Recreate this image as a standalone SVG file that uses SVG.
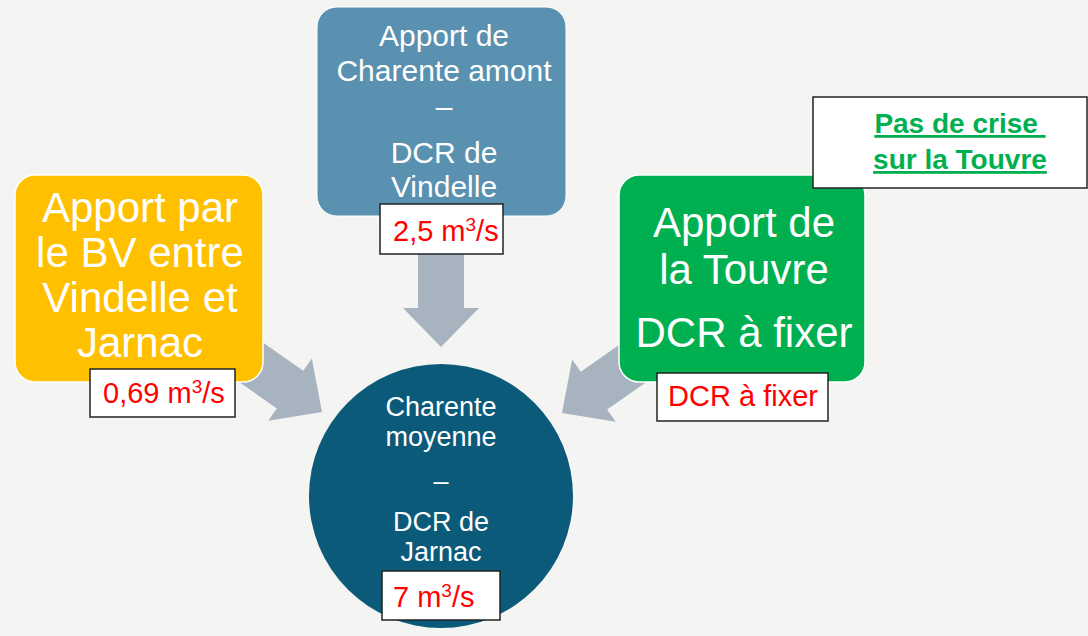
<svg xmlns="http://www.w3.org/2000/svg" width="1088" height="636" viewBox="0 0 1088 636">
<style>
.bg{fill:#f4f4f3}
.arrow{fill:#a7b4c0}
.wt{fill:#ffffff;font-family:"Liberation Sans",Arial,sans-serif;text-anchor:middle}
.lbl{fill:#ffffff;stroke:#222222;stroke-width:1.5}
.red{fill:#ff0000;font-family:"Liberation Sans",Arial,sans-serif;font-size:29px}
.note{fill:#00b050;font-family:"Liberation Sans",Arial,sans-serif;font-size:28px;font-weight:bold;text-anchor:middle;text-decoration:underline}
</style>
<defs>
<path id="arr" d="M0,0 L-39,-38 L-39,-23 L-135,-23 L-135,23 L-39,23 L-39,38 Z"/>
</defs>
<rect class="bg" x="0" y="0" width="1088" height="636"/>
<g id="connectors">
<use href="#arr" class="arrow" transform="translate(441,347) rotate(90)"/>
<use href="#arr" class="arrow" transform="translate(322,412) rotate(35)"/>
<use href="#arr" class="arrow" transform="translate(562,413) rotate(145)"/>
</g>
<g id="node-charente-amont">
<rect x="317" y="7" width="249" height="209" rx="20" fill="#5a91b0" stroke="#ffffff" stroke-width="1"/>
<text class="wt" font-size="30"><tspan x="444" y="46">Apport de</tspan><tspan x="444" y="81">Charente amont</tspan><tspan x="444" y="117">–</tspan><tspan x="444" y="163">DCR de</tspan><tspan x="444" y="197">Vindelle</tspan></text>
<rect class="lbl" x="380" y="204" width="123" height="50"/>
<text class="red" x="393" y="241">2,5 m<tspan font-size="19" dy="-10">3</tspan><tspan dy="10">/s</tspan></text>
</g>
<g id="node-bv">
<rect x="15" y="175" width="248" height="207" rx="20" fill="#ffc000" stroke="#ffffff" stroke-width="1.5"/>
<text class="wt" font-size="42"><tspan x="140" y="222">Apport par</tspan><tspan x="140" y="267">le BV entre</tspan><tspan x="140" y="312">Vindelle et</tspan><tspan x="140" y="357">Jarnac</tspan></text>
<rect class="lbl" x="90" y="369" width="145" height="48"/>
<text class="red" x="103" y="403">0,69 m<tspan font-size="19" dy="-10">3</tspan><tspan dy="10">/s</tspan></text>
</g>
<g id="node-touvre">
<rect x="619" y="175" width="246" height="207" rx="20" fill="#00b050" stroke="#ffffff" stroke-width="1.5"/>
<text class="wt" font-size="42"><tspan x="744" y="237">Apport de</tspan><tspan x="744" y="284">la Touvre</tspan><tspan x="744" y="347">DCR à fixer</tspan></text>
<rect class="lbl" x="657" y="373" width="171" height="48"/>
<text class="red" x="743" y="406" text-anchor="middle">DCR à fixer</text>
</g>
<g id="node-note">
<rect x="813" y="97" width="274" height="91" fill="#ffffff" stroke="#222222" stroke-width="1.5"/>
<text class="note"><tspan x="960" y="133">Pas de crise </tspan><tspan x="960" y="169">sur la Touvre</tspan></text>
</g>
<g id="node-charente-moyenne">
<circle cx="441" cy="496" r="132" fill="#0b5a7a"/>
<text class="wt" font-size="27"><tspan x="441" y="416">Charente</tspan><tspan x="441" y="446">moyenne</tspan><tspan x="441" y="490">–</tspan><tspan x="441" y="531">DCR de</tspan><tspan x="441" y="561">Jarnac</tspan></text>
<rect class="lbl" x="382" y="571" width="118" height="49"/>
<text class="red" x="393" y="607">7 m<tspan font-size="19" dy="-10">3</tspan><tspan dy="10">/s</tspan></text>
</g>
</svg>
